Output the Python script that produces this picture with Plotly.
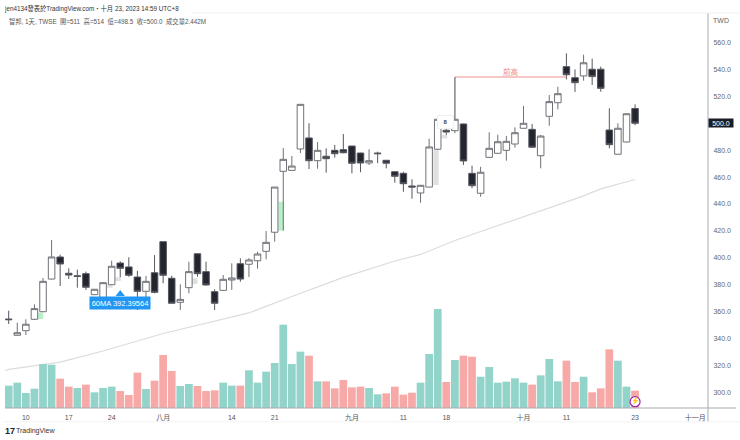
import plotly.graph_objects as go

highs = [360.7,351.8,354.3,365.4,385,413.2,402.3,392.2,391.2,389.7,376.8,382,397.8,397.4,400.4,390.4,386.5,402,412,386.7,
         380.3,397.1,403.3,397.1,376.6,387.2,395.9,399.6,399.8,404.5,419.9,452.6,481.6,475.7,514.1,500,486.1,481.4,483.9,492,
         483.1,478.1,480.7,478.9,472.7,464.5,464,458.4,454.1,488.5,503,502.4,534.4,499.7,468.5,467.7,493.3,491.5,490.6,497,
         512.9,499.5,491.3,521,527.2,552,540.1,551,548,542.1,511.2,500,507.1,514]
lows = [350.8,342.1,342.6,353.7,359.7,383.9,379,384.2,377.8,376.1,372.3,367.1,379.8,385.5,385.9,361.2,368.6,373.6,381,366,
        361.2,373.6,385.9,379.3,361.2,375.5,376.1,382.2,385.7,391.9,398.9,412,420.2,464.8,477.9,466,466.2,463.3,474.4,477.7,
        462.8,463.6,469,470.3,466.5,455.8,449.1,443.9,440.9,452.4,480.1,491.3,492.6,469,451.7,445.4,474.4,477.2,472.2,481.9,
        496,481.9,466.5,498.2,510.4,532.7,523.3,531.7,528.5,523.5,481.4,476.8,485.9,498.5]
body_top = [354.5,344.3,350.6,362.2,382.5,400.6,400.6,388.5,386.7,388.2,376.6,381.5,393.7,396.1,393.2,385.7,382.5,388.9,412,384.8,
            369.1,389.7,403,389.7,374.8,384,385,395.6,398.4,402.8,411.5,452.6,473.2,468.2,514.1,489.1,479.9,475.5,479.9,480.4,
            483.1,477.9,472.2,477.9,472.5,464,462.8,453.4,453.9,482.4,503,494.8,503,499.5,462.8,463.6,481.4,486.3,486.6,493,
            500,495.5,490.5,516.1,522,542.1,533.9,545,540.2,540.2,495,496.3,507.1,511]
body_bottom = [354,342.4,345.8,354.3,359.9,384.2,395.4,387.2,386.2,378.1,372.6,368.6,380,392.2,387,375.1,375.1,374.3,387,366.2,
               366.9,377.8,388.2,379.8,366.2,375.8,383.5,384.2,395.2,397.8,404.8,419,464.3,465,480.9,472.2,472.2,473.7,477.4,478.1,
               470.3,470.5,470.5,477.4,470.3,460.6,455.1,452.6,448.2,452.6,480.7,493.5,494.5,472,453.6,448,474.7,477.7,479.9,484.6,
               496.3,482.2,475.9,505.2,515.3,536.1,530.2,535.2,534.7,526,484.1,477,486.1,500]
falling = {0,6,7,8,9,13,14,15,17,18,19,22,23,24,27,35,37,38,39,40,41,43,44,45,46,47,51,53,54,61,65,66,68,69,70,73}

volumes = [3.15,3.57,2.11,2.72,6.20,6.10,4.13,3.01,2.82,3.29,2.21,2.82,3.01,2.39,1.83,4.98,2.68,3.85,7.47,5.21,
           3.10,3.38,3.10,2.39,2.49,3.57,3.15,3.15,5.31,3.57,5.12,6.34,11.74,6.20,7.94,7.37,3.76,3.76,2.77,3.94,
           2.91,3.01,2.82,1.93,2.07,3.01,1.88,2.16,3.57,7.61,13.95,3.66,6.76,7.37,7.23,4.41,5.78,3.57,3.71,4.18,
           3.57,3.29,4.60,6.90,3.76,6.67,3.66,4.41,2.21,2.77,8.27,6.67,3.01,2.442]
volume_red = {6,7,9,13,14,15,17,18,19,22,23,24,27,35,37,38,39,40,41,44,45,46,47,51,53,54,61,65,66,68,69,70,73}

ma_idx = [-0.43,0,6,11,18,28,33,39,45,48,52,58,64,67,69,73]
ma_val = [316,317,322.5,330.7,343.7,359,371.2,385.4,397.6,402.5,412.9,425.9,439.3,446,451.2,458.2]

tick_idx = [2,7,12,18,26,31,40,46,51,60,65,73,80]
tick_txt = ["10","17","24","八月","14","21","九月","11","18","十月","11","23","十一月"]
price_ticks = [300,320,340,360,380,400,420,440,460,480,500,520,540,560]

green_x, green_low, green_high = [3.7,31.76], [354.5,420.2], [359.2,441.7]
gray_x, gray_low, gray_high = [11.8,12.75,21.7,49.8,50.8], [377.8,382.7,380.5,454.1,488.8], [379.7,385.5,384.8,480.1,491.3]

prior_high_idx, prior_high_val = [52,65], [534.4,534.4]

n = len(highs)
x = list(range(n))
opens = [body_top[i] if i in falling else body_bottom[i] for i in x]
closes = [body_bottom[i] if i in falling else body_top[i] for i in x]

FONT = "Liberation Sans, Noto Sans CJK TC, sans-serif"
fig = go.Figure()
fig.add_bar(x=green_x, y=[h-l for h,l in zip(green_high,green_low)], base=green_low, width=0.62,
            marker=dict(color="#b5f0c8", line_width=0))
fig.add_bar(x=gray_x, y=[h-l for h,l in zip(gray_high,gray_low)], base=gray_low, width=0.62,
            marker=dict(color="#dfe1e1", line_width=0))
fig.add_candlestick(x=x, open=opens, high=highs, low=lows, close=closes, whiskerwidth=0,
    increasing=dict(fillcolor="#ffffff", line=dict(color="#6f7178", width=1)),
    decreasing=dict(fillcolor="#23252f", line=dict(color="#55575f", width=1)))
fig.add_scatter(x=prior_high_idx, y=prior_high_val, mode="lines", line=dict(color="#ee8f8f", width=1.2))
fig.add_scatter(x=[13], y=[373], mode="markers", marker=dict(symbol="triangle-up", size=8, color="#2196f3"))
fig.add_bar(x=x, y=volumes, yaxis="y2", width=0.9,
            marker=dict(color=["#f7a9a7" if i in volume_red else "#92d3ca" for i in x], line_width=0))
fig.add_scatter(x=ma_idx, y=ma_val, mode="lines", line=dict(color="#dcdcdc", width=1.2))
fig.add_scatter(x=[73], y=[0.89], yaxis="y2", mode="markers+text", text=["⚡"], textposition="middle center",
                textfont=dict(size=7, color="#9c27b0"),
                marker=dict(size=10, color="#ffffff", line=dict(color="#9c27b0", width=1.2)))

ann = [
    dict(xref="paper", yref="paper", x=0, xshift=-3, y=1, yshift=5, xanchor="left", yanchor="middle",
         text="jen4134發表於TradingView.com・十月 23, 2023 14:59 UTC+8", font=dict(size=6.3, color="#333333")),
    dict(xref="paper", yref="paper", x=0, xshift=2, y=1, yshift=-8, xanchor="left", yanchor="middle",
         text="智邦, 1天, TWSE  開=511  高=514  低=498.5  收=500.0  成交量2.442M", font=dict(size=6.3, color="#555555")),
    dict(xref="paper", yref="paper", x=1, xshift=13, y=1, yshift=-7, xanchor="center", yanchor="middle",
         text="TWD", font=dict(size=7, color="#666666")),
    dict(xref="paper", yref="paper", x=0, xshift=-2, y=0, yshift=-23, xanchor="left", yanchor="middle",
         text="<b>17</b>", font=dict(size=9, color="#222222")),
    dict(xref="paper", yref="paper", x=0, xshift=9, y=0, yshift=-23, xanchor="left", yanchor="middle",
         text="TradingView", font=dict(size=7, color="#333333")),
    dict(x=58.5, y=538.5, text="前高", font=dict(size=7.5, color="#f08a8a"), xanchor="center", yanchor="middle"),
    dict(x=50.9, y=501, text="<b>8</b>", font=dict(size=6, color="#444444"), xanchor="center", yanchor="middle",
         bordercolor="#f0f0f0", borderwidth=1, bgcolor="#ffffff", width=13, height=10),
    dict(x=13, y=366.4, text="60MA 392.39564", font=dict(size=7.5, color="#ffffff"), xanchor="center", yanchor="middle",
         bgcolor="#2196f3", width=60, height=12, borderpad=0),
    dict(xref="paper", x=1, xanchor="left", y=500, yanchor="middle", text="500.0",
         font=dict(size=7, color="#ffffff"), bgcolor="#1b1d26", width=24, height=8, borderpad=0),
]
for a in ann:
    a["showarrow"] = False

line = lambda x0, y0, x1, y1, c: dict(type="line", xref="paper", yref="paper", x0=x0, y0=y0, x1=x1, y1=y1,
                                      line=dict(color=c, width=1), layer="above")
fig.update_layout(
    width=740, height=440, margin=dict(l=5, r=32, t=13, b=32), autosize=False,
    paper_bgcolor="#ffffff", plot_bgcolor="#ffffff", showlegend=False, hovermode=False,
    barmode="overlay", boxgap=0.24, boxgroupgap=0, font=dict(family=FONT, size=7, color="#666666"),
    xaxis=dict(range=[-0.43,81.5], rangeslider=dict(visible=False), tickvals=tick_idx, ticktext=tick_txt,
               showgrid=False, zeroline=False, ticks="outside", ticklen=3, tickcolor="rgba(0,0,0,0)",
               tickfont=dict(size=7, color="#555555"), showline=False),
    yaxis=dict(range=[288.33,582], side="right", tickvals=price_ticks, ticktext=[f"{p}.0" for p in price_ticks],
               showgrid=False, zeroline=False, ticks="outside", ticklen=3, tickcolor="rgba(0,0,0,0)",
               tickfont=dict(size=7, color="#666666")),
    yaxis2=dict(range=[0,55.65], overlaying="y", visible=False),
    annotations=ann,
    shapes=[line(1,-0.035,1,1,"#a9abb0"), line(0,0,1.04,0,"#a9abb0"), line(0.265,1,1.05,1,"#f0f0f0"),
            line(0,-0.035,1.05,-0.035,"#f3f3f3"),
            dict(type="line", xref="x", yref="y", x0=52, x1=52, y0=503, y1=534.4, line=dict(color="#8a8c92", width=1))],
)
fig.write_html("out.html", config=dict(displayModeBar=False),
               post_script="document.body.style.margin='0';document.body.style.overflow='hidden';")
